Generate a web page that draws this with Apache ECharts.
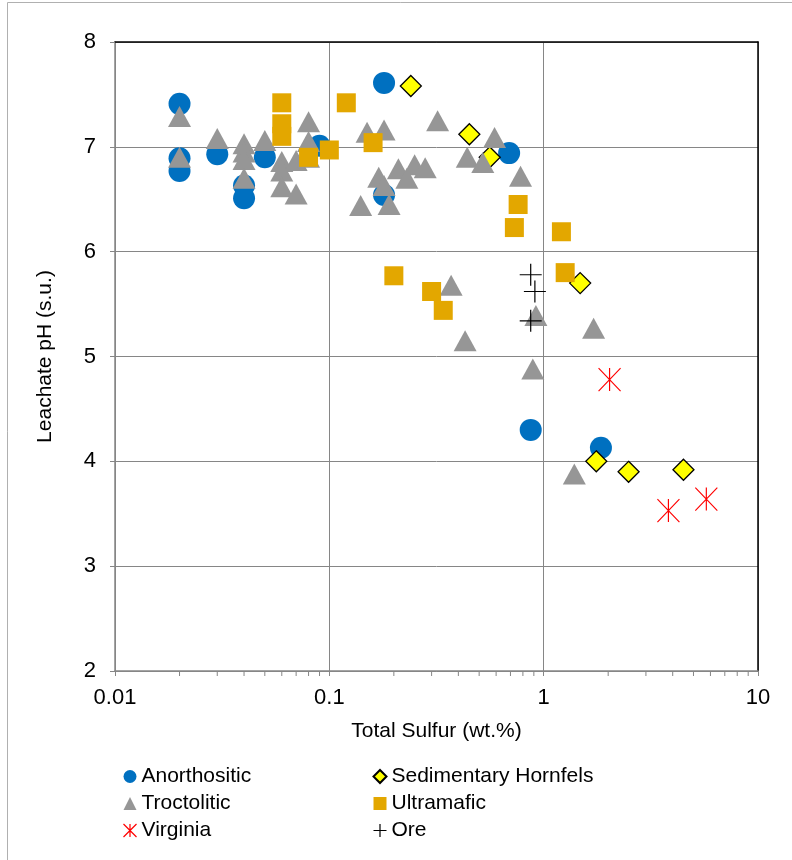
<!DOCTYPE html>
<html>
<head>
<meta charset="utf-8">
<script src="https://cdn.jsdelivr.net/npm/echarts@6/dist/echarts.min.js"></script>
<style>
  html, body { margin: 0; padding: 0; background: #fff; }
  #chart { width: 792px; height: 860px; }
</style>
</head>
<body>
<div id="chart"></div>
<script>
// Total sulfur (wt.%) vs. leachate pH (s.u.) by rock type
const anorthositic = [[0.02,7.41],[0.02,6.89],[0.02,6.77],[0.03,6.93],[0.04,6.63],[0.04,6.51],[0.05,6.9],[0.09,7.01],[0.18,7.61],[0.18,6.54],[0.69,6.94],[0.87,4.3],[1.85,4.13]];
const sedimentaryHornfels = [[0.24,7.58],[0.45,7.12],[0.56,6.9],[1.48,5.7],[1.76,4.0],[2.49,3.9],[4.49,3.92]];
const troctolitic = [[0.02,7.29],[0.02,6.9],[0.03,7.08],[0.04,7.03],[0.04,6.95],[0.04,6.88],[0.04,6.7],[0.05,7.06],[0.06,6.86],[0.06,6.77],[0.06,6.62],[0.07,6.87],[0.07,6.55],[0.08,7.24],[0.08,7.05],[0.08,6.9],[0.14,6.44],[0.15,7.14],[0.17,6.71],[0.18,7.16],[0.18,6.63],[0.19,6.45],[0.21,6.79],[0.23,6.7],[0.25,6.83],[0.28,6.8],[0.32,7.25],[0.37,5.68],[0.43,5.15],[0.44,6.9],[0.52,6.85],[0.59,7.09],[0.78,6.72],[0.89,4.88],[0.92,5.39],[1.39,3.88],[1.71,5.27]];
const ultramafic = [[0.06,7.42],[0.06,7.22],[0.06,7.1],[0.08,6.9],[0.1,6.97],[0.12,7.42],[0.16,7.04],[0.2,5.77],[0.3,5.62],[0.34,5.44],[0.73,6.23],[0.76,6.45],[1.21,6.19],[1.26,5.8]];
const virginia = [[2.03,4.78],[3.82,3.53],[5.74,3.64]];
const ore = [[0.87,5.78],[0.91,5.62],[0.87,5.34]];

// Axis settings
const xMin = 0.01, xMax = 10;
const yMin = 2, yMax = 8, yStep = 1;
const xMinorTicks = [0.02,0.03,0.04,0.05,0.06,0.07,0.08,0.09,0.2,0.3,0.4,0.5,0.6,0.7,0.8,0.9,2,3,4,5,6,7,8,9];

const FONT = '"Liberation Sans", Arial, sans-serif';
const GRID_GRAY = '#868686';
const ASTERISK = 'path://M10,0L10,20M0,0L20,20M0,20L20,0';
const PLUS = 'path://M10,0L10,20M0,10L20,10';

const chart = echarts.init(document.getElementById('chart'), null, { renderer: 'canvas' });

const legendText = { fontFamily: FONT, fontSize: 21, color: '#000' };

chart.setOption({
  animation: false,
  backgroundColor: '#fff',
  graphic: [{
    type: 'rect',
    shape: { x: 7.5, y: 2.5, width: 800, height: 900 },
    style: { fill: 'none', stroke: '#b0b0b0', lineWidth: 1 },
    silent: true
  }],
  grid: { left: 115, top: 42, right: 34, bottom: 189 },
  legend: [{
    orient: 'vertical', left: 116, top: 761,
    itemWidth: 13, itemHeight: 13, itemGap: 6,
    textStyle: legendText,
    data: [
      { name: 'Anorthositic', icon: 'circle' },
      { name: 'Troctolitic', icon: 'triangle' },
      { name: 'Virginia', icon: ASTERISK, itemStyle: { color: 'none', borderColor: '#FF0000', borderWidth: 1.2 } }
    ]
  }, {
    orient: 'vertical', left: 366, top: 761,
    itemWidth: 13, itemHeight: 13, itemGap: 6,
    textStyle: legendText,
    data: [
      { name: 'Sedimentary Hornfels', icon: 'diamond' },
      { name: 'Ultramafic', icon: 'rect' },
      { name: 'Ore', icon: PLUS, itemStyle: { color: 'none', borderColor: '#000', borderWidth: 1.2 } }
    ]
  }],
  xAxis: [{
    type: 'log', logBase: 10, min: xMin, max: xMax,
    name: 'Total Sulfur (wt.%)', nameLocation: 'middle', nameGap: 50,
    nameTextStyle: { fontFamily: FONT, fontSize: 21, color: '#000' },
    axisLine: { show: true, lineStyle: { color: GRID_GRAY, width: 1.5 } },
    axisTick: { show: true, inside: false, length: 5, lineStyle: { color: GRID_GRAY } },
    axisLabel: { fontFamily: FONT, fontSize: 22, color: '#000', margin: 16,
      formatter: v => String(Number(v.toPrecision(3))) },
    splitLine: { show: true, lineStyle: { color: GRID_GRAY, width: 1 } },
    minorTick: { show: false }
  }, {
    type: 'log', logBase: 10, min: xMin, max: xMax, position: 'top',
    axisLine: { show: true, lineStyle: { color: '#000', width: 1.5 } },
    axisTick: { show: false }, axisLabel: { show: false }, splitLine: { show: false }
  }],
  yAxis: [{
    type: 'value', min: yMin, max: yMax, interval: yStep,
    name: 'Leachate pH (s.u.)', nameLocation: 'middle', nameGap: 59,
    nameTextStyle: { fontFamily: FONT, fontSize: 21, color: '#000' },
    axisLine: { show: true, lineStyle: { color: GRID_GRAY, width: 1.5 } },
    axisTick: { show: true, inside: false, length: 5, lineStyle: { color: GRID_GRAY } },
    axisLabel: { fontFamily: FONT, fontSize: 22, color: '#000', margin: 19 },
    splitLine: { show: true, lineStyle: { color: GRID_GRAY, width: 1 } }
  }, {
    type: 'value', min: yMin, max: yMax, interval: yStep, position: 'right',
    axisLine: { show: true, lineStyle: { color: '#000', width: 1.5 } },
    axisTick: { show: false }, axisLabel: { show: false }, splitLine: { show: false }
  }],
  series: [
    {
      name: 'Anorthositic', type: 'scatter', data: anorthositic,
      symbol: 'circle', symbolSize: 22,
      itemStyle: { color: '#0070C0', opacity: 1 }
    },
    {
      name: 'Sedimentary Hornfels', type: 'scatter', data: sedimentaryHornfels,
      symbol: 'diamond', symbolSize: 21,
      itemStyle: { color: '#FFFF00', borderColor: '#000', borderWidth: 1.3, opacity: 1 }
    },
    {
      name: 'Troctolitic', type: 'scatter', data: troctolitic,
      symbol: 'triangle', symbolSize: [23, 21],
      itemStyle: { color: '#969696', opacity: 1 }
    },
    {
      name: 'Ultramafic', type: 'scatter', data: ultramafic,
      symbol: 'rect', symbolSize: 19,
      itemStyle: { color: '#E3A700', opacity: 1 }
    },
    {
      name: 'Virginia', type: 'scatter', data: virginia,
      symbol: ASTERISK, symbolSize: [22, 23],
      itemStyle: { color: 'none', borderColor: '#FF0000', borderWidth: 1.2, opacity: 1 }
    },
    {
      name: 'Ore', type: 'scatter', data: ore,
      symbol: PLUS, symbolSize: 22,
      itemStyle: { color: 'none', borderColor: '#000', borderWidth: 1.2, opacity: 1 }
    },
    {
      // minor log ticks under the x axis
      type: 'custom', silent: true, clip: false, z: 1,
      data: xMinorTicks.map(v => [v, yMin]),
      renderItem: (params, api) => {
        const p = api.coord([api.value(0), api.value(1)]);
        return {
          type: 'line',
          shape: { x1: p[0], y1: p[1], x2: p[0], y2: p[1] + 5 },
          style: { stroke: GRID_GRAY, lineWidth: 1 }
        };
      }
    }
  ]
});
</script>
</body>
</html>
